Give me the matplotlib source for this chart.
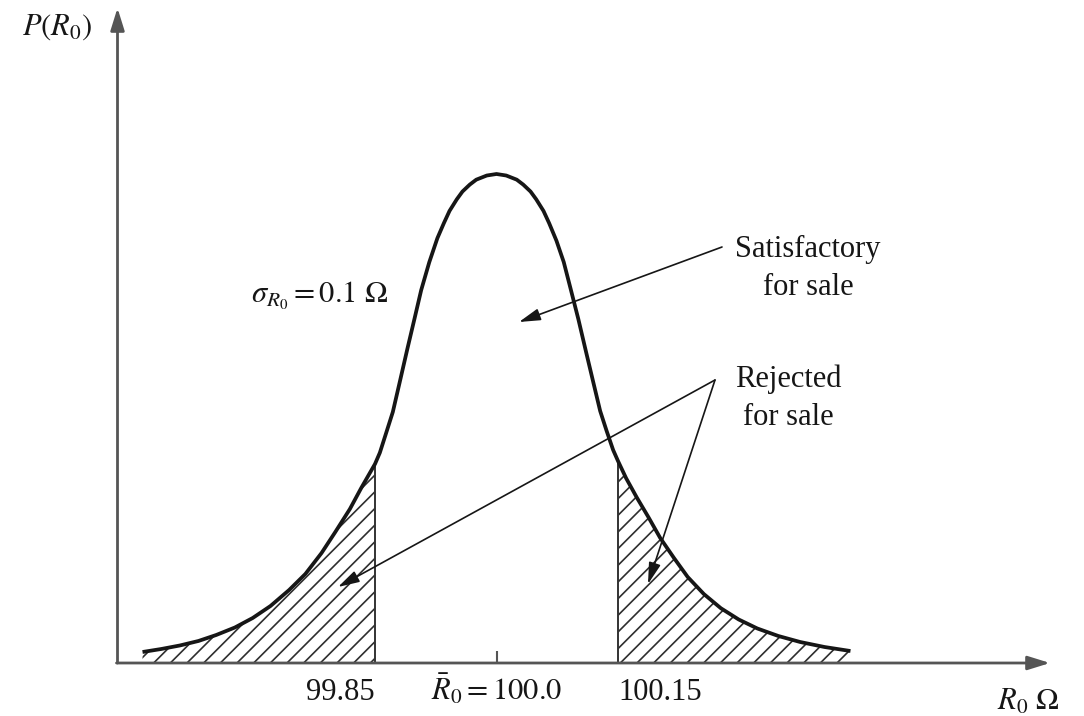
import numpy as np
import matplotlib.pyplot as plt

# Resistance (ohm) read along the drawn curve, and the relative probability density there
r0 = np.array([
    99.563, 99.586, 99.609, 99.632, 99.654, 99.677, 99.699, 99.721, 99.744, 99.764,
    99.784, 99.801, 99.819, 99.833, 99.850, 99.856, 99.864, 99.872, 99.880, 99.890,
    99.899, 99.907, 99.917, 99.927, 99.935, 99.942, 99.951, 99.958, 99.967, 99.975,
    99.988, 100.000,
    100.012, 100.025, 100.033, 100.042, 100.049, 100.058, 100.065, 100.074, 100.083,
    100.091, 100.101, 100.111, 100.120, 100.128, 100.136, 100.144, 100.150, 100.160,
    100.173, 100.188, 100.202, 100.219, 100.236, 100.256, 100.277, 100.299, 100.322,
    100.348, 100.375, 100.405, 100.437,
])
density = np.array([
    0.0225, 0.0286, 0.0358, 0.0450, 0.0573, 0.0726, 0.0920, 0.1166, 0.1493, 0.1820,
    0.2249, 0.2679, 0.3149, 0.3579, 0.4070, 0.4301, 0.4716, 0.5133, 0.5706, 0.6427,
    0.7057, 0.7624, 0.8196, 0.8687, 0.8994, 0.9245, 0.9483, 0.9642, 0.9783, 0.9884,
    0.9969, 1.0000,
    0.9969, 0.9884, 0.9783, 0.9642, 0.9483, 0.9245, 0.8994, 0.8636, 0.8200,
    0.7685, 0.7035, 0.6331, 0.5706, 0.5153, 0.4744, 0.4356, 0.4131, 0.378,
    0.339, 0.297, 0.256, 0.215, 0.176, 0.141, 0.112, 0.089, 0.0706,
    0.0552, 0.0429, 0.0327, 0.0245,
])

reject_low = 99.85
reject_high = 100.15
mean_r0 = 100.0
tick_values = [99.85, 100.0, 100.15]
tick_labels = ["99.85", r"$\bar{R}_0 = 100.0$", "100.15"]

plt.rcParams["font.family"] = "Liberation Serif"
plt.rcParams["mathtext.fontset"] = "stix"
plt.rcParams["hatch.linewidth"] = 1.2

W, H = 1084, 716
fig = plt.figure(figsize=(W / 100, H / 100), dpi=100)
ax = fig.add_axes([0, 0, 1, 1])
ax.axis("off")

# 810 px per ohm, mean at x=496.5 px, baseline at y=663 px, peak 489 px tall
ax.set_xlim(100 - 496.5 / 810, 100 + (W - 496.5) / 810)
ax.set_ylim((663 - H) / 489, 663 / 489)


def px(x, y):
    # pixel position -> axes fraction
    return (x / W, 1 - y / H)


ink = "#161616"
axis_col = "#555555"

# axes with arrows
ax.annotate("", xy=px(117.5, 8), xytext=px(117.5, 663), xycoords="axes fraction",
            arrowprops=dict(arrowstyle="-|>,head_length=0.9,head_width=0.28", mutation_scale=15,
                            lw=2, color=axis_col, shrinkA=0, shrinkB=0))
ax.annotate("", xy=px(1050, 663), xytext=px(116.5, 663), xycoords="axes fraction",
            arrowprops=dict(arrowstyle="-|>,head_length=0.9,head_width=0.28", mutation_scale=15,
                            lw=2, color=axis_col, shrinkA=0, shrinkB=0))

# hatched rejected tails
low = r0 <= reject_low
high = r0 >= reject_high
ax.fill_between(r0[low], 0, density[low], facecolor="none", edgecolor="#2e2e2e",
                hatch="//", linewidth=0)
ax.fill_between(r0[high], 0, density[high], facecolor="none", edgecolor="#2e2e2e",
                hatch="//", linewidth=0)
ax.vlines([reject_low, reject_high], 0,
          [density[r0 == reject_low][0], density[r0 == reject_high][0]],
          color="#333333", lw=1.4)

# the distribution curve
ax.plot(r0, density, color=ink, lw=2.7, solid_joinstyle="round", solid_capstyle="butt")

# small tick at the mean
ax.vlines(mean_r0, 0, 12 / 489, color=axis_col, lw=1.5)

# x labels
for v, lab, ha in zip(tick_values, tick_labels, ["right", "center", "left"]):
    ax.text(v, -37 / 489, lab, ha=ha, va="baseline", fontsize=22, color=ink)

ax.text(*px(997, 710), r"$R_0\ \Omega$", transform=ax.transAxes, ha="left",
        va="baseline", fontsize=22, color=ink)
ax.text(*px(22, 35), r"$P(R_0)$", transform=ax.transAxes, ha="left",
        va="baseline", fontsize=22, color=ink)
ax.text(*px(251, 303), r"$\sigma_{R_0} = 0.1\ \Omega$", transform=ax.transAxes,
        ha="left", va="baseline", fontsize=22, color=ink)

ax.text(*px(808, 257), "Satisfactory", transform=ax.transAxes, ha="center",
        va="baseline", fontsize=22, color=ink)
ax.text(*px(808, 295), "for sale", transform=ax.transAxes, ha="center",
        va="baseline", fontsize=22, color=ink)
ax.text(*px(788, 387), "Rejected", transform=ax.transAxes, ha="center",
        va="baseline", fontsize=22, color=ink)
ax.text(*px(788, 425), "for sale", transform=ax.transAxes, ha="center",
        va="baseline", fontsize=22, color=ink)

# pointer arrows
pointer = dict(arrowstyle="-|>,head_length=1.0,head_width=0.28", mutation_scale=13,
               lw=1.2, color=ink, shrinkA=0, shrinkB=0)
ax.annotate("", xy=px(519, 322), xytext=px(722, 247), xycoords="axes fraction", arrowprops=pointer)
ax.annotate("", xy=px(338, 587), xytext=px(715, 380), xycoords="axes fraction", arrowprops=pointer)
ax.annotate("", xy=px(648, 584), xytext=px(715, 380), xycoords="axes fraction", arrowprops=pointer)

fig.savefig("out.png", dpi=100, facecolor="white")
